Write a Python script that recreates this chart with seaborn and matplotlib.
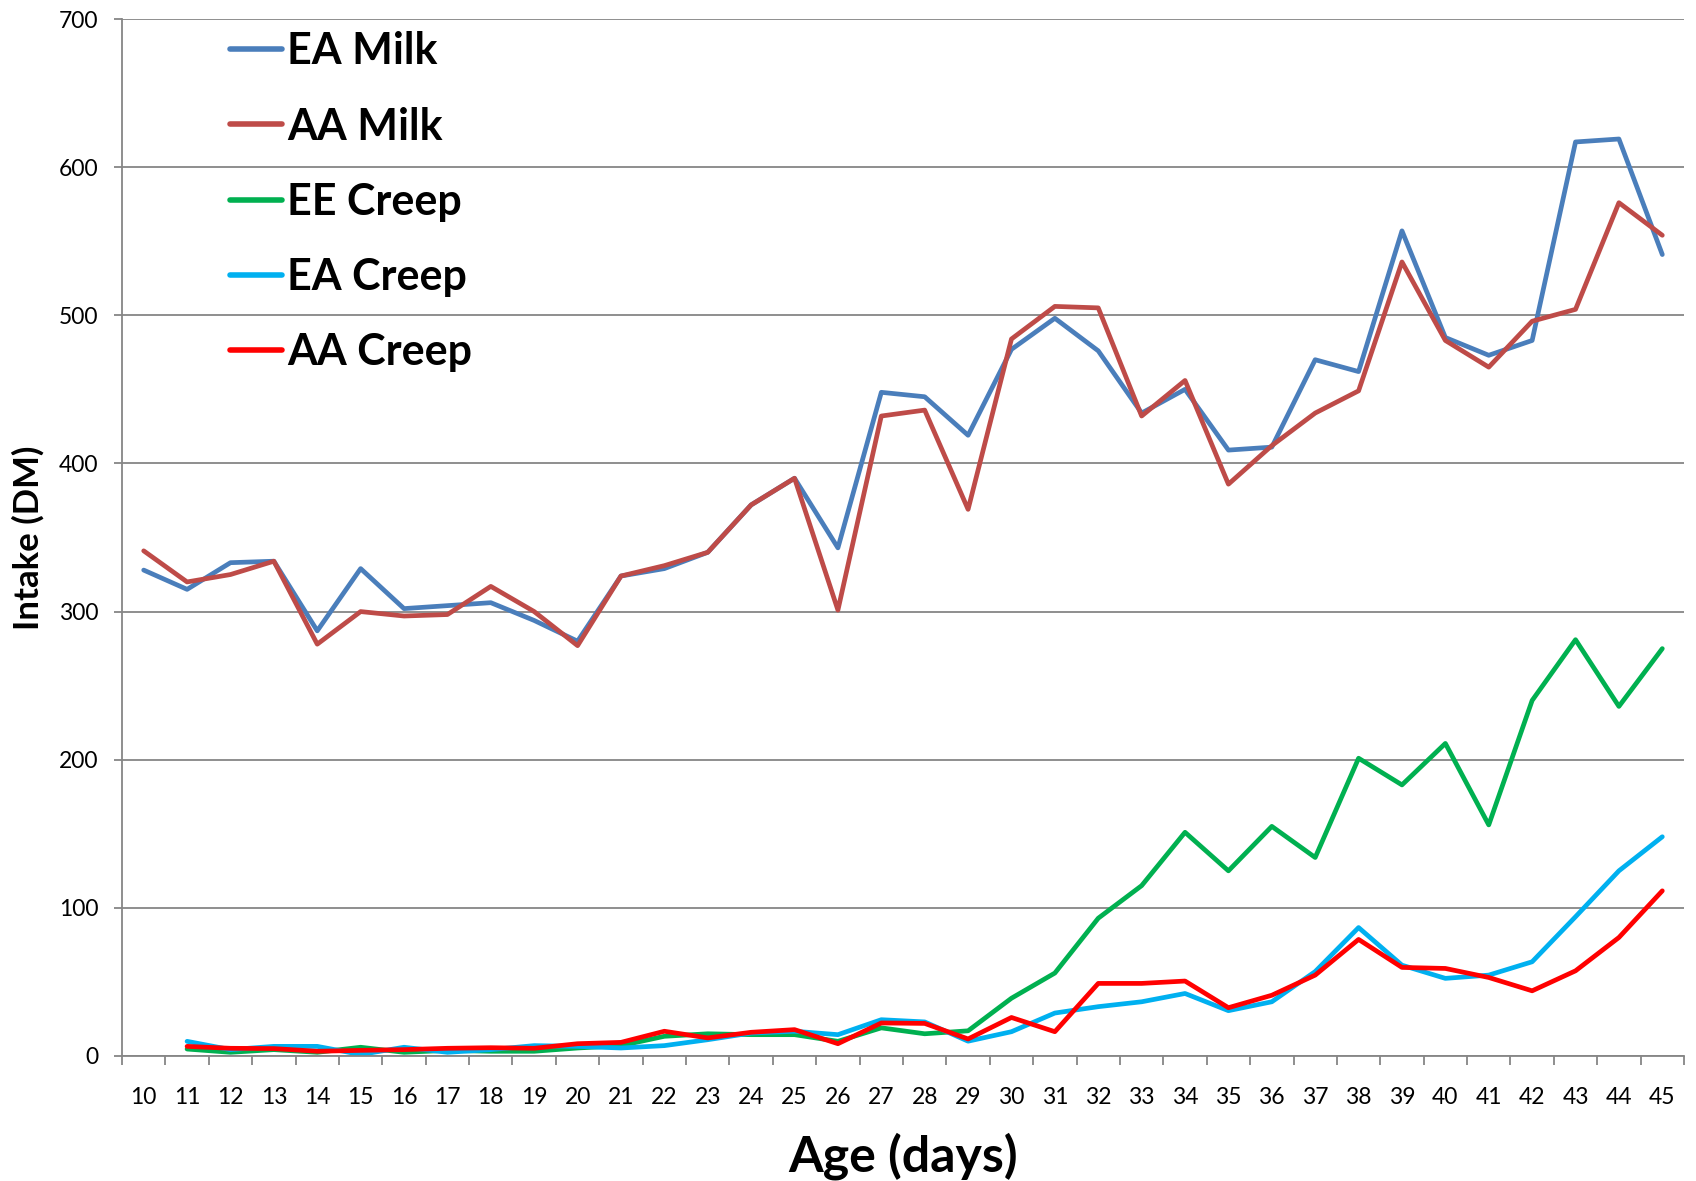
import numpy as np
import pandas as pd
import matplotlib
matplotlib.use("Agg")
import matplotlib.pyplot as plt
import seaborn as sns

# ---- data ----
days = list(range(10, 46))
ea_milk = [328, 315, 333, 334, 287, 329, 302, 304, 306, 294, 280, 324, 329, 340, 372, 390,
           343, 448, 445, 419, 477, 498, 476, 434, 450, 409, 411, 470, 462, 557, 485, 473,
           483, 617, 619, 541]
aa_milk = [341, 320, 325, 334, 278, 300, 297, 298, 317, 300, 277, 324, 331, 340, 372, 390,
           301, 432, 436, 369, 484, 506, 505, 432, 456, 386, 412, 434, 449, 536, 483, 465,
           496, 504, 576, 554]
creep_days = list(range(11, 46))
ee_creep = [4.7, 2.5, 4.3, 2.5, 5.9, 2.5, 3.8, 3.2, 3.2, 5.4, 7, 13.3, 15, 14.4, 14.4, 9.9,
            19, 15, 17, 39, 56, 93, 115, 151, 125, 155, 134, 201, 183, 211, 156, 240, 281,
            236, 275]
ea_creep = [9.9, 4.3, 6.5, 6.5, 1, 5.9, 2.5, 4.3, 7, 6.5, 5.4, 7, 11, 15.5, 16.7, 14.4,
            24.5, 23, 10, 16.4, 29, 33.3, 36.6, 42.2, 30.6, 36.6, 57, 86.7, 61.3, 52.4, 54.6,
            63.6, 94, 125, 148]
aa_creep = [6.5, 5.2, 5, 3.2, 3.8, 4.3, 5.2, 5.6, 5.2, 8.3, 9.2, 16.7, 12.2, 16, 17.8, 8.3,
            22.3, 22, 11.5, 26, 16.4, 49, 49, 50.6, 32.6, 41, 54.6, 78.7, 59.8, 59.1, 53, 44,
            57.5, 80, 111.5]
series_names = ["EA Milk", "AA Milk", "EE Creep", "EA Creep", "AA Creep"]
colors = ["#4A7EBB", "#BE4B48", "#00B050", "#00B0F0", "#FF0000"]
y_ticks = [0, 100, 200, 300, 400, 500, 600, 700]

frames = []
for name, xs, vals in [("EA Milk", days, ea_milk), ("AA Milk", days, aa_milk),
                       ("EE Creep", creep_days, ee_creep), ("EA Creep", creep_days, ea_creep),
                       ("AA Creep", creep_days, aa_creep)]:
    frames.append(pd.DataFrame({"day": xs, "value": vals, "series": name}))
df = pd.concat(frames, ignore_index=True)

sns.set_theme(style="white")
plt.rcParams["font.family"] = ["Lato", "DejaVu Sans"]
plt.rcParams["text.color"] = "black"
plt.rcParams["axes.labelcolor"] = "black"

fig = plt.figure(figsize=(16.96, 11.81), dpi=100)
ax = fig.add_axes([122/1696, 1 - 1056/1181, (1684-122)/1696, (1056-19)/1181])

sns.lineplot(data=df, x="day", y="value", hue="series", hue_order=series_names,
             palette=dict(zip(series_names, colors)), linewidth=3.4, ax=ax,
             estimator=None, sort=False)
for ln in ax.get_lines():
    ln.set_solid_joinstyle("round")
    ln.set_solid_capstyle("round")

ax.set_xlim(9.5, 45.5)
ax.set_ylim(0, 700)
ax.set_yticks(y_ticks)
ax.set_yticklabels([str(v) for v in y_ticks], fontsize=16.5)
ax.set_xticks(np.arange(9.5, 46, 1.0))
ax.set_xticklabels([])
ax.set_xticks(days, minor=True)
ax.set_xticklabels([str(d) for d in days], minor=True, fontsize=16.5)
ax.tick_params(axis="x", which="major", length=6.5, width=1.3, color="#868686", direction="out", bottom=True)
ax.tick_params(axis="x", which="minor", length=0, pad=22, labelcolor="black")
ax.tick_params(axis="y", which="major", length=6, width=1.3, color="#868686", direction="out",
               left=True, pad=11, labelcolor="black")

ax.yaxis.grid(True, color="#868686", linewidth=1.3)
ax.xaxis.grid(False)
ax.set_axisbelow(True)
for s in ["top", "right"]:
    ax.spines[s].set_visible(False)
for s in ["left", "bottom"]:
    ax.spines[s].set_color("#868686")
    ax.spines[s].set_linewidth(1.3)

ax.set_xlabel("Age (days)", fontsize=36, fontweight="bold", labelpad=18, color="black")
ax.set_ylabel("Intake (DM)", fontsize=25, fontweight="bold", labelpad=10, color="black")

handles, labels = ax.get_legend_handles_labels()
leg = ax.legend(handles, labels, loc="upper left", bbox_to_anchor=(213/1696, 1 - 14/1181),
                bbox_transform=fig.transFigure, frameon=False,
                prop={"weight": "bold", "size": 31}, handlelength=1.2, handletextpad=0.12,
                labelspacing=0.82, borderaxespad=0)
for h in leg.get_lines():
    h.set_linewidth(4)
for t in leg.get_texts():
    t.set_color("black")

fig.savefig("out.png", dpi=100)
